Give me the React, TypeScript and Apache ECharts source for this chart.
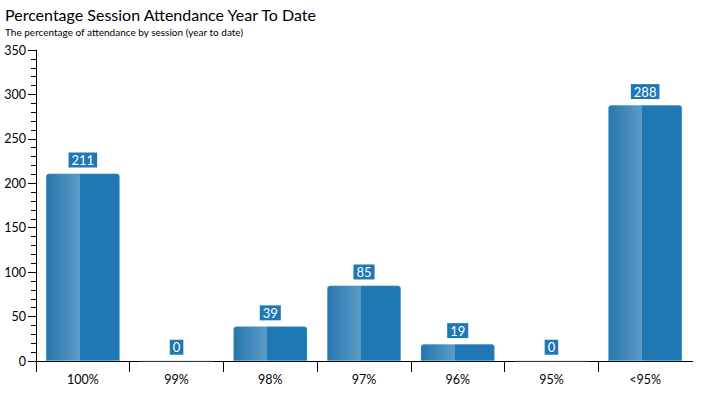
import React, { useEffect, useRef } from "react";
import * as echarts from "echarts";

const categories = ["100%", "99%", "98%", "97%", "96%", "95%", "<95%"];
const values = [211, 0, 39, 85, 19, 0, 288];
const yTicks = [0, 50, 100, 150, 200, 250, 300, 350];

const FONT = "Lato, 'Open Sans', sans-serif";

export default function App() {
  const ref = useRef<HTMLDivElement>(null);
  useEffect(() => {
    const chart = echarts.init(ref.current!, null, { renderer: "svg" });
    const barColor = new echarts.graphic.LinearGradient(0, 0, 1, 0, [
      { offset: 0, color: "#2676ad" },
      { offset: 0.46, color: "#5b9cc6" },
      { offset: 0.461, color: "#1f77b4" },
      { offset: 1, color: "#1f77b4" },
    ]);
    chart.setOption({
      animation: false,
      title: [
        {
          text: "Percentage Session Attendance Year To Date",
          left: 0,
          top: 1,
          textStyle: { fontFamily: FONT, fontSize: 16, fontWeight: "normal", color: "#000" },
        },
        {
          text: "The percentage of attendance by session (year to date)",
          left: 0,
          top: 22,
          textStyle: { fontFamily: FONT, fontSize: 10, fontWeight: "normal", color: "#000" },
        },
      ],
      grid: { left: 36, right: 10, top: 50, bottom: 37 },
      xAxis: {
        type: "category",
        data: categories,
        boundaryGap: true,
        axisLine: { lineStyle: { color: "#000", width: 1 } },
        axisTick: { show: true, length: 11, lineStyle: { color: "#000" } },
        axisLabel: { color: "#000", fontFamily: FONT, fontSize: 12.5, margin: 12 },
      },
      yAxis: {
        type: "value",
        min: yTicks[0],
        max: yTicks[yTicks.length - 1],
        interval: 50,
        splitLine: { show: false },
        axisLine: { show: true, lineStyle: { color: "#000", width: 1 } },
        axisTick: { show: true, length: 8, lineStyle: { color: "#000" } },
        minorTick: { show: true, splitNumber: 5, length: 5, lineStyle: { color: "#000" } },
        axisLabel: { color: "#000", fontFamily: FONT, fontSize: 12.5, margin: 10 },
      },
      graphic: [
        {
          type: "rect",
          right: 8,
          bottom: 24,
          shape: { width: 4, height: 12 },
          style: { fill: "#fff" },
          z: 100,
        },
      ],
      series: [
        {
          type: "bar",
          data: values,
          barWidth: 74,
          itemStyle: {
            color: barColor,
            borderRadius: [3, 3, 0, 0],
            borderColor: "rgba(160,200,230,0.6)",
            borderWidth: 0.5,
          },
          label: {
            show: true,
            position: "top",
            distance: 6,
            color: "#fff",
            backgroundColor: "#1f77b4",
            padding: [1, 3, 1, 3],
            fontFamily: FONT,
            fontSize: 13,
          },
        },
      ],
    });
    return () => chart.dispose();
  }, []);
  return (
    <div
      ref={ref}
      style={{ position: "fixed", left: 0, top: 0, width: 702, height: 398, background: "#fff" }}
    />
  );
}
